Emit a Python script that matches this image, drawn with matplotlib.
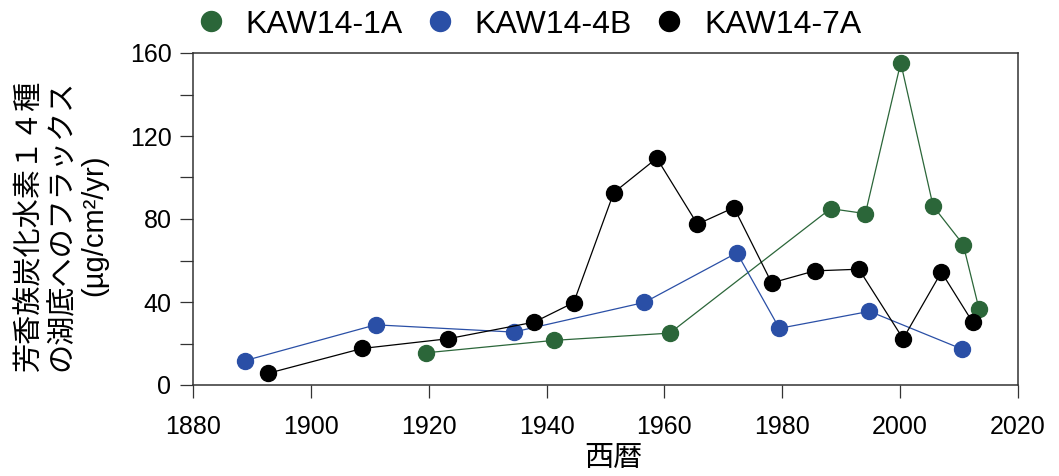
import matplotlib
matplotlib.use("Agg")
import matplotlib.pyplot as plt
from matplotlib.lines import Line2D
from matplotlib.ticker import MultipleLocator

plt.rcParams['font.family'] = ['Liberation Sans', 'Noto Sans CJK JP', 'DejaVu Sans']

series_names = ["KAW14-1A", "KAW14-4B", "KAW14-7A"]
series_colors = ["#2b6639", "#2a4fa6", "#000000"]

years_1a = [1919.5, 1941.2, 1960.9, 1988.2, 1994.1, 2000.1, 2005.6, 2010.7, 2013.4]
flux_1a = [15.5, 21.5, 25.0, 85.0, 82.6, 155.3, 86.2, 67.7, 36.5]

years_4b = [1888.9, 1911.0, 1934.4, 1956.6, 1972.3, 1979.5, 1994.8, 2010.5]
flux_4b = [11.8, 29.0, 25.5, 39.8, 63.7, 27.3, 35.5, 17.3]

years_7a = [1892.7, 1908.7, 1923.3, 1937.9, 1944.6, 1951.4, 1958.7, 1965.6,
            1971.8, 1978.2, 1985.5, 1993.0, 2000.5, 2007.0, 2012.3]
flux_7a = [5.6, 17.6, 22.3, 30.3, 39.7, 92.7, 109.3, 77.5,
           85.5, 49.2, 55.0, 55.8, 22.3, 54.4, 30.3]

x_ticks = [1880, 1900, 1920, 1940, 1960, 1980, 2000, 2020]
y_ticks = [0, 40, 80, 120, 160]

ylabel_text = "芳香族炭化水素１４種\nの湖底へのフラックス\n(µg/cm²/yr)"
xlabel_text = "西暦"

W, H = 1059, 476
fig = plt.figure(figsize=(W / 100, H / 100), dpi=100)
ax = fig.add_axes([193 / W, 1 - 385 / H, (1018 - 193) / W, (385 - 53) / H])

data = [(years_1a, flux_1a), (years_4b, flux_4b), (years_7a, flux_7a)]
for (xs, ys), c, name in zip(data, series_colors, series_names):
    ax.plot(xs, ys, color=c, lw=0.9, marker='o', ms=11.5, mec=c, mfc=c,
            label=name, clip_on=False)

ax.set_xlim(1880, 2020)
ax.set_ylim(0, 160)
ax.set_xticks(x_ticks)
ax.set_yticks(y_ticks)
ax.yaxis.set_minor_locator(MultipleLocator(20))
ax.tick_params(axis='both', which='both', direction='out', length=9.5,
               width=0.9, color='#333333', labelsize=18, pad=6)
ax.tick_params(axis='x', pad=12)
for s in ax.spines.values():
    s.set_linewidth(1.1)
    s.set_color('#333333')

fig.text(62 / W, 1 - 225 / H, ylabel_text, rotation=90, ha='center', va='center',
         multialignment='center', fontsize=21, linespacing=1.2)
fig.text(613 / W, 1 - 458 / H, xlabel_text, ha='center', va='center', fontsize=21)

handles = [Line2D([], [], ls='none', marker='o', ms=14.4, color=c, mec=c)
           for c in series_colors]
fig.legend(handles, series_names, loc='upper center', bbox_to_anchor=(0.5, 1.02),
           ncol=3, frameon=False, fontsize=23, handlelength=0.8,
           handletextpad=0.7, columnspacing=0.75, borderaxespad=0.2)

fig.savefig("out.png", dpi=100)
